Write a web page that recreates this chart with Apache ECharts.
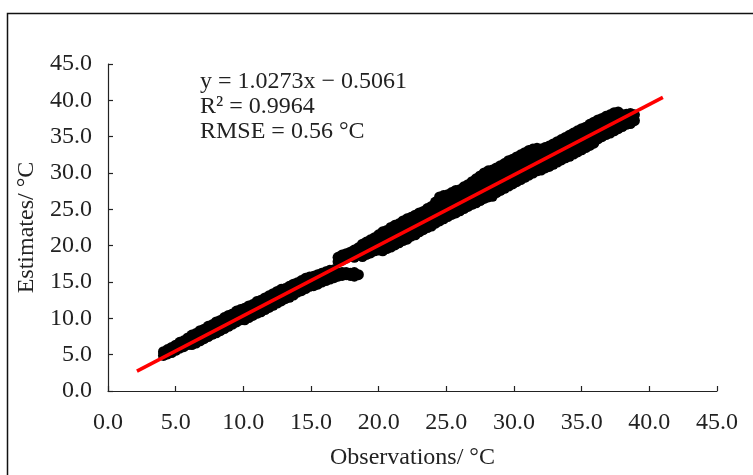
<!DOCTYPE html>
<html>
<head>
<meta charset="utf-8">
<script src="https://cdn.jsdelivr.net/npm/echarts@6/dist/echarts.min.js"></script>
<style>
html,body{margin:0;padding:0;background:#fff;}
#chart{width:753px;height:475px;}
</style>
</head>
<body>
<div id="chart"></div>
<script>
// Observations (°C) at which points were read, and the estimate values seen at each
var obsX = [4.1,4.4,4.7,5.0,5.3,5.6,5.9,
  6.2,6.5,6.8,7.1,7.4,7.7,8.0,8.3,8.6,8.9,9.2,9.5,9.8,
  10.1,10.4,10.7,11.0,11.3,11.6,11.9,12.2,12.5,12.8,
  13.1,13.4,13.7,14.0,14.3,14.6,14.9,
  15.2,15.5,15.8,16.1,16.4,16.7,17.0,17.3,17.6,17.9,18.2,18.5,
  18.8,19.1,19.4,19.7,20.0,
  20.3,20.6,20.9,21.2,21.5,21.8,22.1,22.4,22.7,23.0,23.3,23.6,23.9,
  24.2,24.5,24.8,25.1,25.4,25.7,26.0,26.3,26.6,26.9,27.2,27.5,27.8,28.1,28.4,28.7,29.0,29.3,29.6,29.9,30.2,30.5,30.8,31.1,31.4,31.7,
  32.0,32.3,32.6,32.9,33.2,33.5,33.8,34.1,34.4,34.7,35.0,35.3,35.6,35.9,
  36.2,36.5,36.8,37.1,37.4,37.7,38.0,38.3,38.6,38.9];
var estAtX = [[5.4,4.9],[5.7,5.1],[6.0,5.3],[6.3,5.6],[6.7,5.9],[6.9,6.1],[7.3,6.4],
  [7.7,7.0,6.4],[7.9,7.2,6.6],[8.3,7.5,6.9],[8.5,7.9,7.2],[8.9,8.1,7.5],[9.1,8.5,7.8],[9.5,8.8,8.0],[9.7,9.1,8.3],[10.1,9.3,8.6],[10.4,9.6,8.9],[10.6,9.9,9.2],[11.0,10.2,9.5],[11.2,10.5,9.8],
  [11.4,10.8,9.8],[11.7,11.0,10.1],[11.9,11.3,10.4],[12.3,11.6,10.7],[12.5,11.9,10.9],[12.8,12.2,11.2],[13.1,12.5,11.5],[13.4,12.7,11.8],[13.7,13.0,12.1],[14.0,13.3,12.4],
  [14.1,13.5,12.7],[14.4,13.8,12.9],[14.7,14.1,13.2],[14.9,14.3,13.6],[15.2,14.6,13.8],[15.5,14.9,14.1],[15.7,15.1,14.4],
  [15.8,15.2,14.5],[16.0,15.4,14.7],[16.2,15.6,15.0],[16.4,15.8,15.2],[16.6,16.0,15.4],[16.7,16.1,15.6],
  [18.4,17.8,16.2,15.8],[18.7,18.0,16.3,15.9],[18.9,18.3,16.3,16.0],[19.1,18.5,16.2,15.9],[19.4,18.8,18.4,16.3,15.8],[19.7,19.0,18.7,16.0],
  [20.2,19.5,18.5],[20.5,19.8,18.8],[20.8,20.0,19.0],[21.1,20.3,19.3],[21.5,20.6,19.4],
  [21.9,21.0,20.2,19.3],[22.1,21.3,20.4,19.6],[22.5,21.5,20.8,19.8],[22.8,21.9,21.0,20.1],[23.0,22.1,21.4,20.4],[23.4,22.5,21.6,20.7],[23.7,22.8,21.9,20.9],[23.9,23.0,22.3,21.3],[24.2,23.3,22.5,21.5],[24.5,23.6,22.8,21.9],[24.7,23.9,23.1,22.2],[25.1,24.2,23.4,22.5],[25.4,24.5,23.7,22.7],
  [26.0,25.0,24.1,23.1],[26.7,25.4,24.5,23.4],[26.9,25.6,24.7,23.7],[27.0,26.0,25.0,24.0],[27.3,26.2,25.3,24.3],[27.6,26.5,25.6,24.5],[27.7,26.8,25.9,24.8],[28.1,27.1,26.2,25.1],[28.4,27.4,26.5,25.4],[28.8,27.7,26.8,25.7],[29.2,28.0,27.1,25.9],[29.6,28.3,27.4,26.2],[30.0,28.7,27.7,26.5],[30.3,29.0,28.0,26.7],[30.4,29.2,28.2,26.8],[30.7,29.5,28.5,27.3],[31.0,29.8,28.8,27.6],[31.3,30.1,29.1,27.9],[31.7,30.4,29.4,28.2],[31.9,30.7,29.7,28.5],[32.2,31.0,30.0,28.8],[32.5,31.3,30.3,29.1],[32.8,31.6,30.5,29.4],[33.1,31.9,30.8,29.7],[33.3,32.1,31.1,30.0],[33.4,32.4,31.4,30.3],
  [33.3,32.5,31.7,30.4],[33.5,32.7,32.0,30.7],[33.7,33.0,32.3,30.9],[34.0,33.2,32.5,31.2],[34.3,33.5,32.8,31.5],[34.6,33.8,33.1,31.8],[34.9,34.1,33.4,32.1],[35.2,34.4,33.7,32.3],[35.5,34.7,34.0,32.6],[35.8,35.0,34.3,32.9],[36.1,35.3,34.6,33.2],[36.3,35.5,34.9,33.5],[36.7,35.8,35.1,33.8],[37.0,36.1,35.4,34.1],
  [37.3,36.4,35.7,34.7],[37.5,36.7,36.0,35.0],[37.8,36.9,36.3,35.3],[38.0,37.2,36.6,35.5],[38.3,37.5,36.8,35.8],[38.4,37.7,37.1,36.1],[38.0,37.5,36.4],[38.1,37.6,36.7],[38.2,37.7,36.8],[38.0,37.2]];
// Red fitted line as drawn (observation, estimate endpoints)
var fitObs = [2.14, 41.0];
var fitEst = [2.74, 40.4];
var axisTicks = [0,5,10,15,20,25,30,35,40,45];
var fitText = ['y = 1.0273x \u2212 0.5061', 'R\u00b2 = 0.9964', 'RMSE = 0.56 \u00b0C'];
var xName = 'Observations/ \u00b0C';
var yName = 'Estimates/ \u00b0C';

var points = [];
for (var i = 0; i < obsX.length; i++) {
  for (var j = 0; j < estAtX[i].length; j++) points.push([obsX[i], estAtX[i][j]]);
}
var fitLine = [[fitObs[0], fitEst[0]], [fitObs[1], fitEst[1]]];

var FONT = 'Liberation Serif';
var FS = 24;
var TXT = '#222';
var chart = echarts.init(document.getElementById('chart'), null, {renderer: 'canvas'});
function axisCommon(name, gap, margin) {
  return {
    type: 'value', min: axisTicks[0], max: axisTicks[axisTicks.length-1], interval: 5,
    name: name, nameLocation: 'middle', nameGap: gap,
    nameTextStyle: {fontFamily: FONT, fontSize: FS, color: TXT},
    axisLine: {show: true, onZero: false, lineStyle: {color: '#222', width: 1.2}},
    axisTick: {show: true, inside: true, length: 5, lineStyle: {color: '#222', width: 1.2}},
    axisLabel: {fontFamily: FONT, fontSize: FS, color: TXT, margin: margin,
      formatter: function (v) { return v.toFixed(1); }},
    splitLine: {show: false}
  };
}
var xAx = axisCommon(xName, 55, 20);
var yAx = axisCommon(yName, 57, 16);
chart.setOption({
  animation: false,
  backgroundColor: '#fff',
  grid: {left: 108, right: 36, top: 64, bottom: 78, containLabel: false},
  xAxis: xAx,
  yAxis: yAx,
  series: [
    {type: 'scatter', data: points, symbol: 'circle', symbolSize: 11, large: false,
      itemStyle: {color: '#000', opacity: 1}, z: 2},
    {type: 'line', data: fitLine, symbol: 'none', lineStyle: {color: '#ff0000', width: 3.5}, z: 3}
  ],
  graphic: [
    {type: 'rect', shape: {x: 7.5, y: 13.5, width: 800, height: 500}, style: {fill: 'none', stroke: '#111', lineWidth: 1.5}, silent: true},
    {type: 'text', left: 200, top: 70, style: {text: fitText[0], font: FS + 'px "Liberation Serif"', fill: TXT}},
    {type: 'text', left: 200, top: 95, style: {text: fitText[1], font: FS + 'px "Liberation Serif"', fill: TXT}},
    {type: 'text', left: 200, top: 120, style: {text: fitText[2], font: FS + 'px "Liberation Serif"', fill: TXT}}
  ]
});
</script>
</body>
</html>
